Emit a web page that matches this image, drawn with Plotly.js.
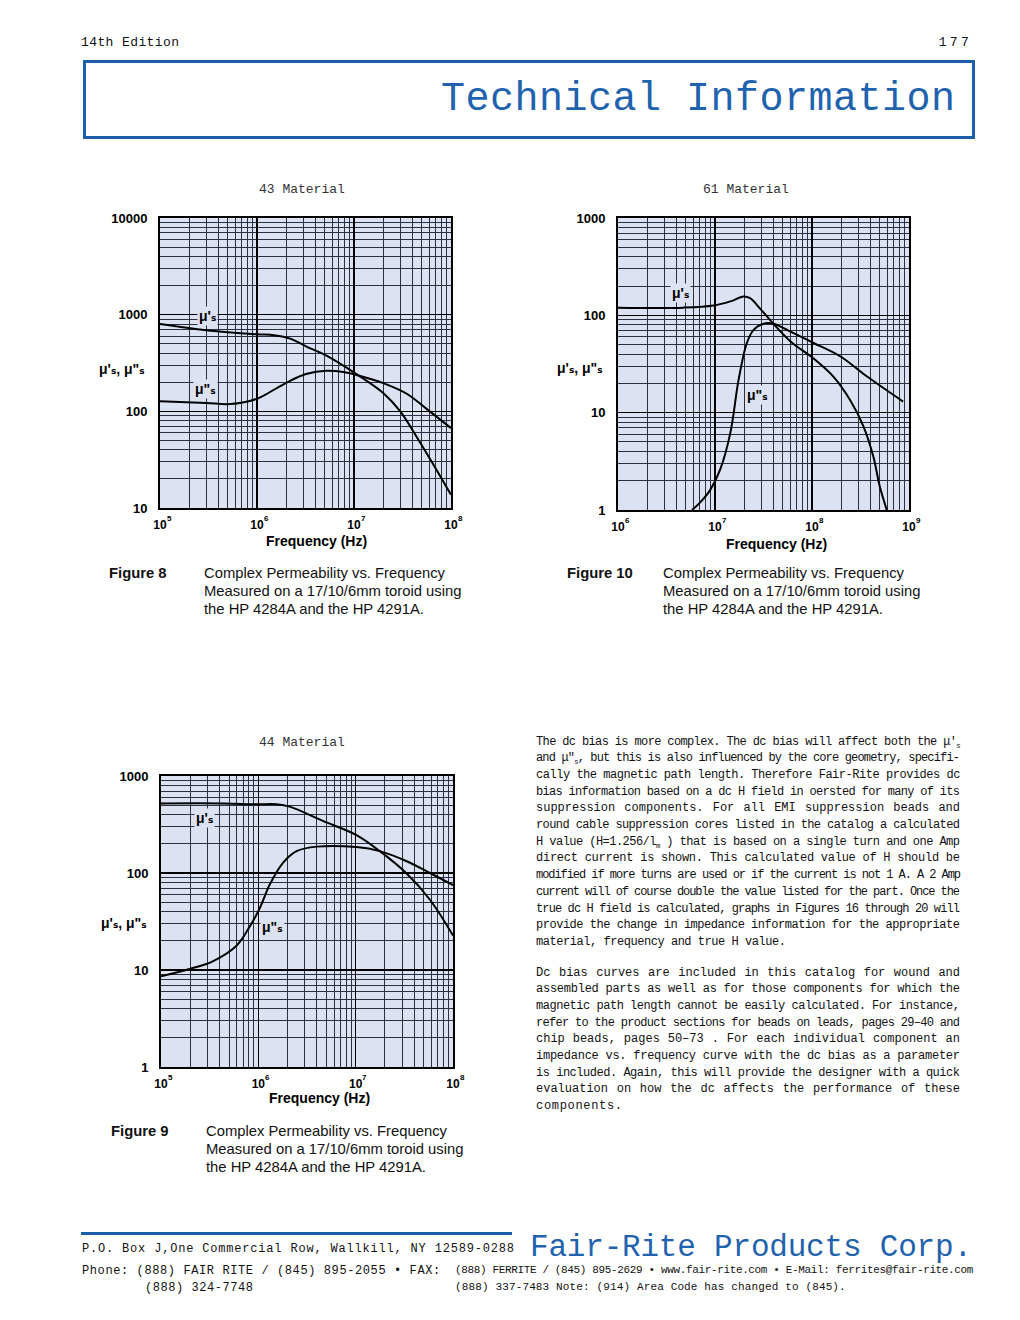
<!DOCTYPE html>
<html><head><meta charset="utf-8">
<script src="https://cdn.plot.ly/plotly-3.0.1.min.js"></script>
<style>
html,body{margin:0;padding:0;background:#fff;}
#page{position:relative;width:1020px;height:1320px;overflow:hidden;}
#plot{position:absolute;left:0;top:0;width:1020px;height:1320px;}
.t{position:absolute;white-space:nowrap;line-height:1.2;overflow:visible;}
.mono{font-family:"Liberation Mono","DejaVu Sans Mono",monospace;color:#111;}
.sans{font-family:"Liberation Sans",Arial,sans-serif;color:#111;}
.blue{color:#1f62ae;}
.s11{font-size:11px;} .s12{font-size:12px;} .s13{font-size:13px;} .s15{font-size:14.8px;}
.s31{font-size:31px;} .s40{font-size:40px;}
.b{font-weight:bold;}
sub{font-size:60%;vertical-align:-0.35em;line-height:0;}
</style></head><body>
<div id="page">
<div id="plot"></div>
</div>
<script>
// ---------- data ----------
const f43_mup  = [1e5, 3e5, 1e6, 1.5e6, 2.2e6, 3.2e6, 5.2e6, 1.06e7, 2e7, 3e7, 4.4e7, 6.6e7, 1e8];
const m43_mup  = [800, 690, 627, 612, 565, 470, 377, 243, 155, 100, 55, 28, 13.7];
const f43_mupp = [1e5, 3e5, 5.3e5, 1e6, 1.6e6, 2.2e6, 3.2e6, 5.2e6, 7.8e6, 1.06e7, 2e7, 3.5e7, 5.6e7, 1e8];
const m43_mupp = [127, 122, 119, 135, 174, 207, 243, 263, 255, 238, 196, 152, 106, 67];

const f61_mup  = [1e6, 4.7e6, 9.7e6, 1.44e7, 1.97e7, 2.3e7, 2.9e7, 4e7, 6e7, 1.04e8, 1.66e8, 2.47e8, 3.4e8, 4.3e8, 5e8, 5.9e8];
const m61_mup  = [120, 120, 126, 139, 156, 150, 118, 82, 54, 36, 23.5, 13.5, 7.2, 3.5, 1.74, 1.0];
const f61_mupp = [5.8e6, 7e6, 8.9e6, 1.13e7, 1.44e7, 1.75e7, 2.13e7, 2.5e7, 3.16e7, 4e7, 6e7, 1.04e8, 1.95e8, 3.7e8, 8.7e8];
const m61_mupp = [1.0, 1.19, 1.6, 2.6, 6.2, 21.7, 52, 71, 82, 82, 68, 52, 38, 23.5, 13.0];

const f44_mup  = [1e5, 4.4e5, 9.6e5, 1.54e6, 2.1e6, 4.6e6, 1.02e7, 1.77e7, 3.3e7, 5.8e7, 1e8];
const m44_mup  = [522, 522, 511, 511, 483, 344, 246, 168, 100, 53, 22.7];
const f44_mupp = [1e5, 2e5, 3.4e5, 6e5, 8.2e5, 1.04e6, 1.31e6, 1.8e6, 2.47e6, 4e6, 1.02e7, 1.77e7, 3.3e7, 5.8e7, 1e8];
const m44_mupp = [8.6, 10.3, 12.3, 17.9, 28.3, 43.8, 76, 128, 168, 187, 185, 168, 133, 100, 75];

const xTicks5 = [1e5, 1e6, 1e7, 1e8];
const xExp5   = ['5', '6', '7', '8'];
const xTicks6 = [1e6, 1e7, 1e8, 1e9];
const xExp6   = ['6', '7', '8', '9'];
const xBase   = ['10', '10', '10', '10'];
const yTicks10 = [10, 100, 1000, 10000];
const yText10  = ['10', '100', '1000', '10000'];
const yTicks1  = [1, 10, 100, 1000];
const yText1   = ['1', '10', '100', '1000'];

const chartTitles = ['43 Material', '61 Material', '44 Material'];
const muLabel = "\u03bc'\u209b, \u03bc\"\u209b";
const muP = "\u03bc'\u209b";
const muPP = "\u03bc\"\u209b";

// ---------- layout helpers ----------
const W = 1020, H = 1320;
const X = px => px / W;
const Y = py => 1 - py / H;
function minors(lo, hi) {
  const v = [];
  for (let e = lo; e < hi; e++) for (let d = 2; d <= 9; d++) v.push(d * Math.pow(10, e));
  return v;
}
const BG = '#dce2f2';
const yTickFont = {family: 'Liberation Sans, Arial, sans-serif', size: 13, color: '#000', weight: 'bold'};
const xTickFont = {family: 'Liberation Sans, Arial, sans-serif', size: 12, color: '#000', weight: 'bold'};
const expFont = {family: 'Liberation Sans, Arial, sans-serif', size: 8, color: '#000', weight: 'bold'};
function xax(dom, lo, tv, tt) {
  return {type: 'log', domain: dom, range: [lo, lo + 3], tickmode: 'array', tickvals: tv, ticktext: tt,
    showgrid: true, gridcolor: '#000', gridwidth: 1.4, zeroline: false,
    minor: {tickmode: 'array', tickvals: minors(lo, lo + 3), showgrid: true, gridcolor: '#2b3040', gridwidth: 1, ticks: ''},
    showline: true, mirror: true, linecolor: '#000', linewidth: 2, ticks: '', tickfont: xTickFont,
    ticklabelstandoff: 5, fixedrange: true};
}
function yax(dom, lo, tv, tt, anchor) {
  return {type: 'log', domain: dom, range: [lo, lo + 3], tickmode: 'array', tickvals: tv, ticktext: tt,
    showgrid: true, gridcolor: '#000', gridwidth: 1.4, zeroline: false, anchor: anchor,
    minor: {tickmode: 'array', tickvals: minors(lo, lo + 3), showgrid: true, gridcolor: '#2b3040', gridwidth: 1, ticks: ''},
    showline: true, mirror: true, linecolor: '#000', linewidth: 2, ticks: '', tickfont: yTickFont,
    ticklabelstandoff: 8, fixedrange: true};
}
const line = {color: '#000', width: 2, shape: 'spline', smoothing: 1};
function tr(x, y, xa, ya) { return {x: x, y: y, xaxis: xa, yaxis: ya, mode: 'lines', line: line, hoverinfo: 'skip', showlegend: false}; }

const data = [
  tr(f43_mup, m43_mup, 'x', 'y'), tr(f43_mupp, m43_mupp, 'x', 'y'),
  tr(f61_mup, m61_mup, 'x2', 'y2'), tr(f61_mupp, m61_mupp, 'x2', 'y2'),
  tr(f44_mup, m44_mup, 'x3', 'y3'), tr(f44_mupp, m44_mupp, 'x3', 'y3')
];

const monoF = {family: 'Liberation Mono, monospace', size: 13, color: '#333'};
const boldF = {family: 'Liberation Sans, Arial, sans-serif', size: 14, color: '#000', weight: 'bold'};
const labF  = {family: 'Liberation Sans, DejaVu Sans, Arial, sans-serif', size: 14, color: '#000', weight: 'bold'};
function ann(text, px, py, font, xanchor, extra) {
  return Object.assign({text: text, x: X(px), y: Y(py), xref: 'paper', yref: 'paper', showarrow: false,
    font: font, xanchor: xanchor || 'center', yanchor: 'middle'}, extra || {});
}
const lab = (t, px, py) => ann(t, px, py, labF, 'center', {bgcolor: BG, borderpad: 1});
// exponents of the x tick labels, placed at the tick values of each axis
function exps(ticks, texts, xref, py) {
  return ticks.map((v, i) => ({text: texts[i], x: Math.log10(v), xref: xref, y: Y(py), yref: 'paper',
    showarrow: false, font: expFont, xanchor: 'center', yanchor: 'middle', xshift: 9}));
}

const annotations = [
  ann(chartTitles[0], 302, 190, monoF), ann(chartTitles[1], 746, 190, monoF), ann(chartTitles[2], 302, 742, monoF),
  ann('Frequency (Hz)', 316, 541, boldF), ann('Frequency (Hz)', 776, 544, boldF), ann('Frequency (Hz)', 319, 1098, boldF),
  ann(muLabel, 147, 369, labF, 'right'), ann(muLabel, 605, 368, labF, 'right'), ann(muLabel, 149, 923, labF, 'right'),
  lab(muP, 207, 316), lab(muPP, 205, 389),
  lab(muP, 680, 293), lab(muPP, 757, 395),
  lab(muP, 204, 818), lab(muPP, 272, 927)
].concat(exps(xTicks5, xExp5, 'x', 518.5), exps(xTicks6, xExp6, 'x2', 520.5), exps(xTicks5, xExp5, 'x3', 1077.5));

const layout = {
  width: W, height: H, margin: {l: 0, r: 0, t: 0, b: 0},
  paper_bgcolor: 'rgba(0,0,0,0)', plot_bgcolor: BG, showlegend: false,
  xaxis: Object.assign(xax([X(160), X(451)], 5, xTicks5, xBase), {anchor: 'y'}),
  yaxis: yax([Y(508), Y(218)], 1, yTicks10, yText10, 'x'),
  xaxis2: Object.assign(xax([X(618), X(909)], 6, xTicks6, xBase), {anchor: 'y2'}),
  yaxis2: yax([Y(510), Y(218)], 0, yTicks1, yText1, 'x2'),
  xaxis3: Object.assign(xax([X(161), X(453)], 5, xTicks5, xBase), {anchor: 'y3'}),
  yaxis3: yax([Y(1067), Y(776)], 0, yTicks1, yText1, 'x3'),
  annotations: annotations
};
Plotly.newPlot('plot', data, layout, {displayModeBar: false, staticPlot: true});

// ---------- page text ----------
const page = document.getElementById('page');
function box(l, t, w, h, css) {
  const d = document.createElement('div');
  d.style.cssText = 'position:absolute;left:' + l + 'px;top:' + t + 'px;width:' + w + 'px;height:' + h + 'px;' + css;
  page.appendChild(d); return d;
}
// mode: 'fit' = stretch letters to target width, 'just' = justify with word spacing, 'none'
function txt(html, cls, left, cy, size, tw, mode, align) {
  const d = document.createElement('div');
  d.className = 't ' + cls;
  d.innerHTML = html;
  page.appendChild(d);
  d.style.top = (cy - size * 0.6) + 'px';
  d.style.left = left + 'px';
  const w = d.getBoundingClientRect().width;
  const n = d.textContent.length;
  if (tw && mode === 'fit' && n > 1) {
    d.style.letterSpacing = ((tw - w) / (n - 1)) + 'px';
  } else if (tw && mode === 'just') {
    if (w > tw) d.style.letterSpacing = ((tw - w) / (n - 1)) + 'px';
    else {
      const ns = (d.textContent.match(/ /g) || []).length;
      if (ns) d.style.wordSpacing = ((tw - w) / ns) + 'px';
    }
  }
  const fw = d.getBoundingClientRect().width;
  d.style.width = Math.ceil(fw + 2) + 'px';
  d.style.height = Math.ceil(size * 1.2) + 'px';
  if (align === 'r') d.style.left = (left - fw) + 'px';
  return d;
}

// header
txt('14th Edition', 'mono s13', 81, 43, 13, 98, 'fit');
txt('177', 'mono s13', 972, 43, 13, 30, 'fit', 'r');
box(83, 60, 886, 73, 'border:3px solid #1c5fa8;');
txt('Technical Information', 'mono blue s40', 441, 100, 40, 514, 'fit');

// captions
const caps = [
  [109, 204, 574, 'Figure 8'], [567, 663, 574, 'Figure 10'], [111, 206, 1132, 'Figure 9']
];
const capLines = ['Complex Permeability vs. Frequency', 'Measured on a 17/10/6mm toroid using', 'the HP 4284A and the HP 4291A.'];
caps.forEach(c => {
  txt(c[3], 'sans s15 b', c[0], c[2], 14.8, null, 'none');
  capLines.forEach((s, i) => txt(s, 'sans s15', c[1], c[2] + i * 18, 14.8, null, 'none'));
});

// body paragraphs
const para1 = [
  "The dc bias is more complex.  The dc bias will affect both the \u03bc'<sub>s</sub>",
  "and \u03bc\"<sub>s</sub>, but this is also influenced by the core geometry, specifi-",
  "cally the magnetic path length.  Therefore Fair-Rite provides dc",
  "bias information based on a dc H field in oersted for many of its",
  "suppression components. For all EMI suppression beads and",
  "round cable suppression cores listed in the catalog a calculated",
  "H value (H=1.256/l<sub>m</sub> ) that is based on a single turn and one Amp",
  "direct current is shown. This calculated value of H should be",
  "modified if more turns are used or if the current is not 1 A.  A 2 Amp",
  "current will of course double the value listed for the part. Once the",
  "true dc H field is calculated, graphs in Figures 16 through 20 will",
  "provide the change in impedance information for the appropriate",
  "material, frequency and true H value."
];
const para2 = [
  "Dc bias curves are included in this catalog for wound and",
  "assembled parts as well as for those components for which the",
  "magnetic path length cannot be easily calculated. For instance,",
  "refer to the product sections for beads on leads, pages 29\u201340 and",
  "chip beads, pages 50\u201373 . For each individual component an",
  "impedance vs. frequency curve with the dc bias as a parameter",
  "is included. Again, this will provide the designer with a quick",
  "evaluation on how the dc affects the performance of these",
  "components."
];
para1.forEach((s, i) => {
  const last = i === para1.length - 1;
  txt(s, 'mono s12', 536, 742 + i * 16.67, 12, last ? 250 : 424, last ? 'fit' : 'just');
});
para2.forEach((s, i) => {
  const last = i === para2.length - 1;
  txt(s, 'mono s12', 536, 973 + i * 16.65, 12, last ? 86 : 424, last ? 'fit' : 'just');
});

// footer
box(81, 1232, 431, 3, 'background:#1c5fa8;');
txt('P.O. Box J,One Commercial Row, Wallkill, NY 12589-0288', 'mono s12', 82, 1249, 12, 432, 'fit');
txt('Fair-Rite Products Corp.', 'mono blue s31', 530, 1248, 31, 442, 'fit');
txt('Phone:  (888) FAIR RITE / (845) 895-2055  \u2022  FAX:', 'mono s12', 82, 1271, 12, 360, 'fit');
txt('(888) FERRITE / (845) 895-2629  \u2022  www.fair-rite.com  \u2022  E-Mail: ferrites@fair-rite.com', 'mono s11', 455, 1271, 11, 517, 'fit');
txt('(888) 324-7748', 'mono s12', 145, 1288, 12, 108, 'fit');
txt('(888) 337-7483   Note: (914) Area Code has changed to (845).', 'mono s11', 455, 1288, 11, 391, 'fit');
</script>
</body></html>
